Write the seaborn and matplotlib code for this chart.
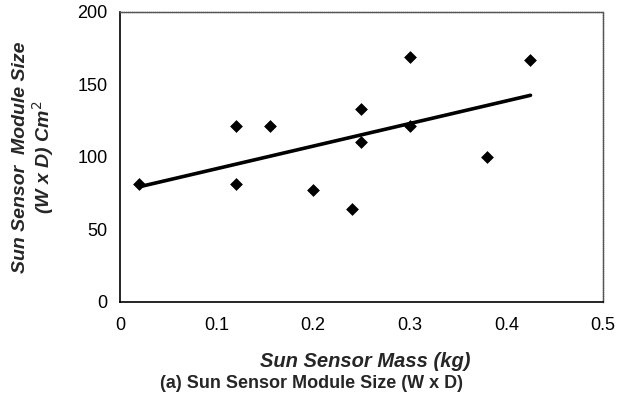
import numpy as np
import pandas as pd
import matplotlib
matplotlib.use("Agg")
import matplotlib.pyplot as plt
import seaborn as sns

# Sun sensor data
mass_kg = [0.02, 0.12, 0.12, 0.155, 0.20, 0.24, 0.25, 0.25, 0.30, 0.30, 0.38, 0.425]
module_size = [81, 81, 121, 121, 77, 64, 133, 110, 169, 121, 100, 167]

x_ticks = [0, 0.1, 0.2, 0.3, 0.4, 0.5]
x_tick_labels = ["0", "0.1", "0.2", "0.3", "0.4", "0.5"]
y_ticks = [0, 50, 100, 150, 200]

df = pd.DataFrame({"mass": mass_kg, "size": module_size})

sns.set_style("white")
plt.rcParams["font.family"] = ["Liberation Sans", "DejaVu Sans"]

fig = plt.figure(figsize=(6.19, 4.09), dpi=100)
ax = fig.add_axes([0.194, 0.262, 0.780, 0.709])

sns.regplot(data=df, x="mass", y="size", ax=ax, ci=None,
            marker="D", color="black",
            scatter_kws={"s": 36, "edgecolor": "black", "linewidths": 0.5,
                         "alpha": 1},
            line_kws={"linewidth": 2.6, "color": "black"})

ax.set_xlim(0, 0.5)
ax.set_ylim(0, 200)
ax.set_xticks(x_ticks)
ax.set_xticklabels(x_tick_labels)
ax.set_yticks(y_ticks)
ax.tick_params(axis="both", direction="in", length=4, width=0.8,
               labelsize=13, colors="black", pad=9)
ax.tick_params(axis="x", pad=11)

for side in ["left", "bottom"]:
    ax.spines[side].set_color("black")
    ax.spines[side].set_linewidth(1.2)
for side in ["top", "right"]:
    ax.spines[side].set_color("#555555")
    ax.spines[side].set_linewidth(1.0)
    ax.spines[side].set_linestyle((0, (1, 0.5)))

ax.set_xlabel("")
ax.set_ylabel("")

fig.text(0.590, 0.115, "Sun Sensor Mass (kg)", ha="center", va="center",
         fontsize=14.5, fontweight="bold", fontstyle="italic")
fig.text(0.503, 0.063, "(a) Sun Sensor Module Size (W x D)", ha="center",
         va="center", fontsize=13, fontweight="bold")
fig.text(0.033, 0.616, "Sun Sensor  Module Size", rotation=90, ha="center",
         va="center", fontsize=14, fontweight="bold", fontstyle="italic")
fig.text(0.070, 0.616, "(W x D) Cm$^2$", rotation=90, ha="center",
         va="center", fontsize=14, fontweight="bold", fontstyle="italic")

fig.savefig("out.png", dpi=100)
